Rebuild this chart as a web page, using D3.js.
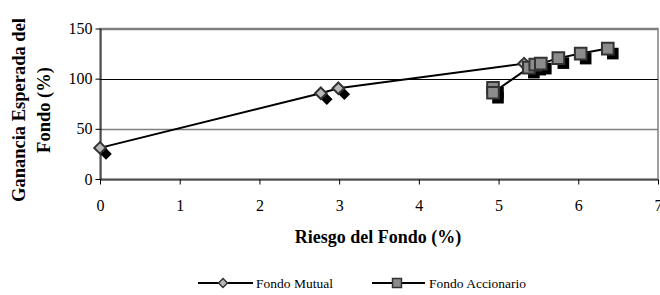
<!DOCTYPE html>
<html><head><meta charset="utf-8">
<script src="https://cdn.jsdelivr.net/npm/d3@7"></script>
<style>
body{margin:0;background:#fff;}
</style></head>
<body><svg id="c" width="660" height="295"></svg>
<script>
const mutualX = [0, 2.77, 2.99, 5.32];
const mutualY = [31, 85.5, 90.5, 115];
const accionX = [4.93, 4.93, 5.38, 5.46, 5.53, 5.75, 6.03, 6.37];
const accionY = [91, 86, 111, 114, 115, 120.5, 125, 130];
const xTicks = [0, 1, 2, 3, 4, 5, 6, 7];
const yTicks = [0, 50, 100, 150];
const seriesNames = ["Fondo Mutual", "Fondo Accionario"];

const FONT = '"Liberation Serif", "Times New Roman", serif';
const svg = d3.select("#c");
const x = d3.scaleLinear().domain([0, 7]).range([100, 658]);
const y = d3.scaleLinear().domain([0, 150]).range([179, 28.5]);

svg.append("rect").attr("x", 100).attr("y", 28.5).attr("width", 558).attr("height", 150.5)
  .attr("fill", "none").attr("stroke", "#808080").attr("stroke-width", 1.5);

svg.append("g").selectAll("line").data(yTicks.filter(d => d > 0)).join("line")
  .attr("x1", 100).attr("x2", 658)
  .attr("y1", d => Math.round(y(d)) + 0.5).attr("y2", d => Math.round(y(d)) + 0.5)
  .attr("stroke", d => d === 100 ? "#000" : "#808080").attr("stroke-width", d => d === 100 ? 1 : 1.5);

const xAxis = d3.axisBottom(x).tickValues(xTicks).tickFormat(d3.format("d")).tickSizeOuter(0).tickSizeInner(5).tickPadding(15);
const gx = svg.append("g").attr("transform", "translate(0,179.5)").call(xAxis);
gx.attr("font-family", FONT).attr("font-size", 16);
gx.select(".domain").attr("stroke", "#000").attr("stroke-width", 1);
gx.selectAll(".tick line").attr("stroke", "#000");
gx.selectAll("text").style("font-family", FONT).style("font-size", "16px").attr("fill", "#000");

const yAxis = d3.axisLeft(y).tickValues(yTicks).tickSizeOuter(0).tickSizeInner(5).tickPadding(3);
const gy = svg.append("g").attr("transform", "translate(100.5,0)").call(yAxis);
gy.attr("font-family", FONT).attr("font-size", 16);
gy.select(".domain").attr("stroke", "#000");
gy.selectAll(".tick line").attr("stroke", "#000");
gy.selectAll("text").style("font-family", FONT).style("font-size", "16px").attr("fill", "#000");

svg.append("text").attr("x", 378).attr("y", 243).attr("text-anchor", "middle")
  .style("font-family", FONT).style("font-size", "18px").style("font-weight", "bold").text("Riesgo del Fondo (%)");
const yt = svg.append("text").attr("transform", "translate(25,110) rotate(-90)")
  .attr("text-anchor", "middle").style("font-family", FONT).style("font-size", "18.5px").style("font-weight", "bold");
yt.append("tspan").attr("x", 0).attr("dy", 0).text("Ganancia Esperada del");
yt.append("tspan").attr("x", 0).attr("dy", 25).text("Fondo (%)");

const mutual = mutualX.map((v, i) => [v, mutualY[i]]);
const accion = accionX.map((v, i) => [v, accionY[i]]);
const line = d3.line().x(d => x(d[0])).y(d => y(d[1]));

const diamond = d3.symbol().type(d3.symbolDiamond2).size(85);
const sq = d3.symbol().type(d3.symbolSquare).size(135);

svg.append("path").attr("d", line(mutual)).attr("fill", "none").attr("stroke", "#000").attr("stroke-width", 2);
svg.append("path").attr("d", line(accion)).attr("fill", "none").attr("stroke", "#000").attr("stroke-width", 2);

svg.append("g").selectAll("path").data(mutual).join("path")
  .attr("d", diamond).attr("transform", d => `translate(${x(d[0]) + 6},${y(d[1]) + 6})`).attr("fill", "#000");
svg.append("g").selectAll("path").data(accion).join("path")
  .attr("d", sq).attr("transform", d => `translate(${x(d[0]) + 5},${y(d[1]) + 5})`).attr("fill", "#000");

svg.append("g").selectAll("path").data(mutual).join("path")
  .attr("d", diamond).attr("transform", d => `translate(${x(d[0])},${y(d[1])})`)
  .attr("fill", "#b8b8b8").attr("stroke", "#333").attr("stroke-width", 2);
svg.append("g").selectAll("path").data(accion).join("path")
  .attr("d", sq).attr("transform", d => `translate(${x(d[0])},${y(d[1])})`)
  .attr("fill", "#8c8c8c").attr("stroke", "#333").attr("stroke-width", 2);

const lg = svg.append("g");
const legendItems = [
  {name: seriesNames[0], x1: 198, x2: 253, mx: 223, sym: d3.symbol().type(d3.symbolDiamond2).size(50), fill: "#b8b8b8", tx: 256},
  {name: seriesNames[1], x1: 372, x2: 425, mx: 397, sym: d3.symbol().type(d3.symbolSquare).size(80), fill: "#8c8c8c", tx: 429}
];
legendItems.forEach(it => {
  lg.append("line").attr("x1", it.x1).attr("x2", it.x2).attr("y1", 283).attr("y2", 283).attr("stroke", "#000").attr("stroke-width", 2);
  lg.append("path").attr("d", it.sym).attr("transform", `translate(${it.mx},283)`).attr("fill", it.fill).attr("stroke", "#333").attr("stroke-width", 1.5);
  lg.append("text").attr("x", it.tx).attr("y", 287.5).style("font-family", FONT).style("font-size", "13.5px").text(it.name);
});
</script></body></html>
